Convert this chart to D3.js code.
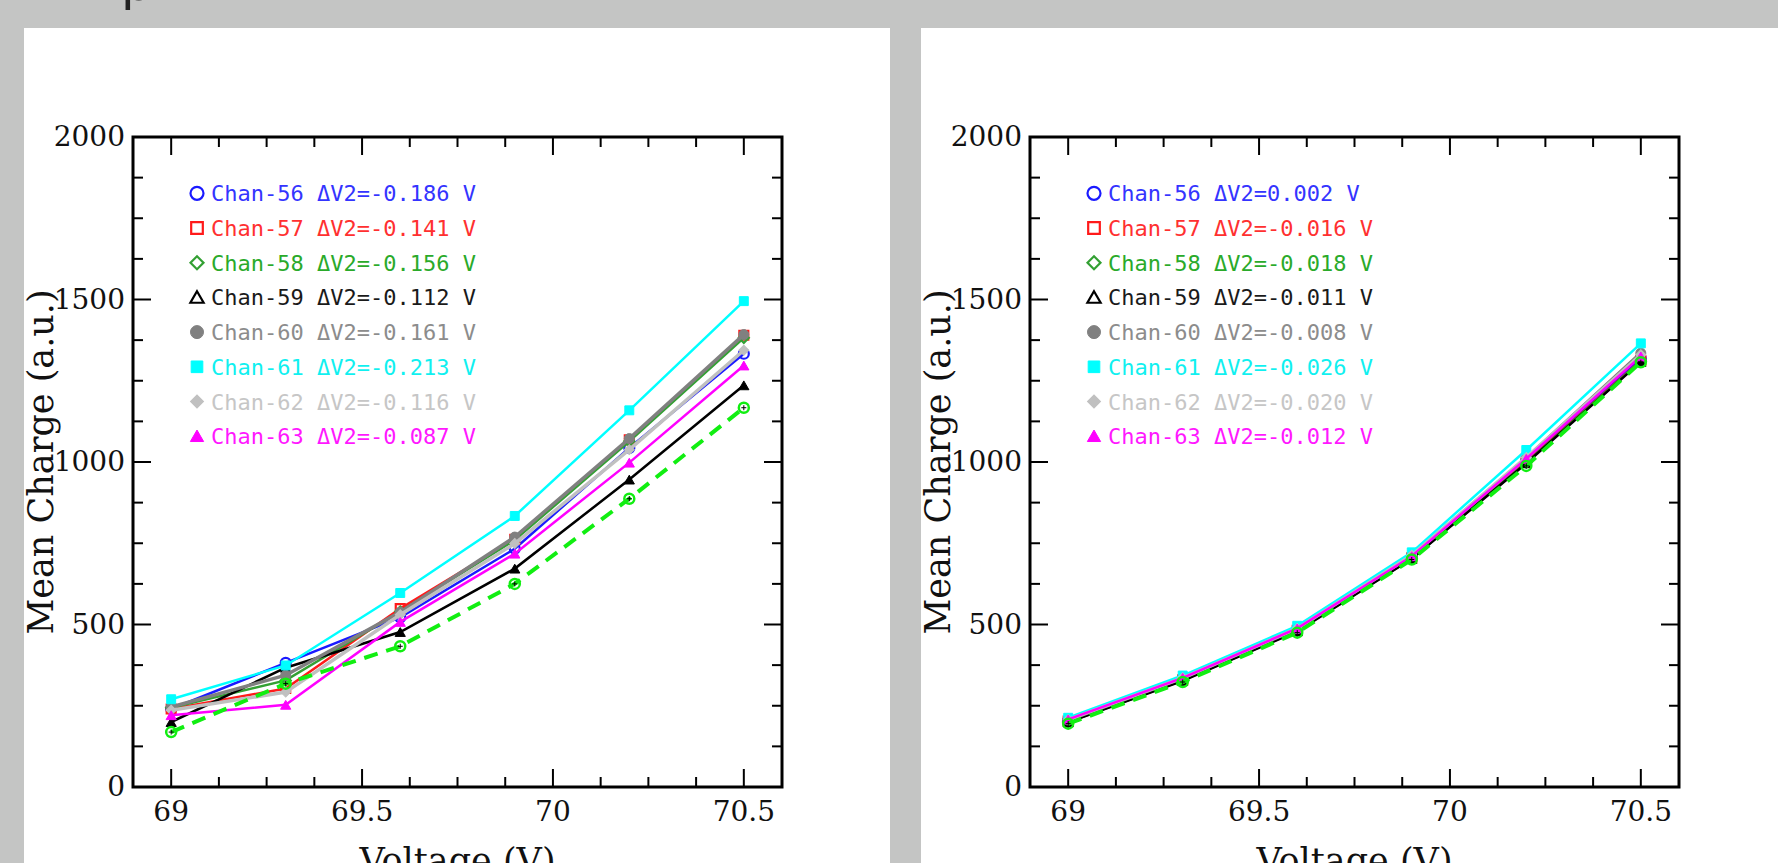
<!DOCTYPE html>
<html>
<head>
<meta charset="utf-8">
<script src="https://cdn.jsdelivr.net/npm/d3@7"></script>
<style>
  body { margin: 0; background: #c4c5c4; overflow: hidden; }
  svg { display: block; }
</style>
</head>
<body>
<svg id="page" width="1778" height="863"></svg>
<script>
// Data
const voltages = [69.0, 69.3, 69.6, 69.9, 70.2, 70.5];
const channels = ["Chan-56", "Chan-57", "Chan-58", "Chan-59", "Chan-60", "Chan-61", "Chan-62", "Chan-63"];
const leftDeltaV = ["-0.186", "-0.141", "-0.156", "-0.112", "-0.161", "-0.213", "-0.116", "-0.087"];
const rightDeltaV = ["0.002", "-0.016", "-0.018", "-0.011", "-0.008", "-0.026", "-0.020", "-0.012"];

const leftCharge = [
  [240, 382, 522, 733, 1043, 1333],
  [240, 303, 549, 762, 1068, 1390],
  [244, 328, 540, 760, 1064, 1382],
  [200, 367, 477, 672, 946, 1236],
  [246, 344, 538, 769, 1072, 1392],
  [270, 374, 597, 834, 1159, 1495],
  [236, 292, 530, 749, 1038, 1344],
  [221, 253, 508, 718, 998, 1297]
];
const leftReference = [169, 318, 433, 625, 887, 1167];

const rightCharge = [
  [205, 333, 485, 708, 1005, 1318],
  [203, 330, 482, 705, 1000, 1312],
  [200, 328, 480, 703, 998, 1310],
  [199, 327, 479, 702, 996, 1308],
  [206, 335, 487, 712, 1012, 1335],
  [213, 343, 496, 722, 1037, 1365],
  [207, 336, 488, 713, 1014, 1330],
  [208, 336, 488, 710, 1010, 1325]
];
const rightReference = [195, 323, 475, 700, 988, 1307];

const yTicks = [0, 500, 1000, 1500, 2000];
const xTicks = [69, 69.5, 70, 70.5];

// styles per channel
const lineColors = ["#1a1aff", "#ff1a1a", "#33a033", "#000000", "#808080", "#00ffff", "#c0c0c0", "#ff00ff"];
const textColors = ["#3434ff", "#ff3030", "#2aaa2a", "#1a1a1a", "#8c8c8c", "#10f0f0", "#c6c6c6", "#ff18ff"];
const markerType = ["circle", "square", "diamond", "triangle", "circle", "square", "diamond", "triangle"];
const legendFilled = [false, false, false, false, true, true, true, true];
const dataFilled = [false, false, false, true, true, true, true, true];

const svg = d3.select("#page");

// the slide title above, cut off by the top edge
svg.append("text")
  .attr("x", 121).attr("y", 0)
  .style("font-family", "DejaVu Sans").style("font-size", "50px")
  .attr("fill", "#222")
  .text("p");

// white panels
svg.append("rect").attr("x", 24).attr("y", 28).attr("width", 866).attr("height", 835).attr("fill", "#fff");
svg.append("rect").attr("x", 921).attr("y", 28).attr("width", 857).attr("height", 835).attr("fill", "#fff");

function markerPath(type, r) {
  if (type === "circle") return d3.symbol(d3.symbolCircle, Math.PI * r * r)();
  if (type === "square") return d3.symbol(d3.symbolSquare, 4 * r * r * 0.8)();
  if (type === "diamond") return d3.symbol(d3.symbolSquare, 2 * r * r * 1.0)();
  return d3.symbol(d3.symbolTriangle, 1.8 * r * r)();
}

function drawMarker(g, type, cx, cy, r, color, filled) {
  g.append("path")
    .attr("d", markerPath(type, r))
    .attr("transform", `translate(${cx},${cy})` + (type === "diamond" ? " rotate(45)" : "") + (type === "triangle" ? " translate(0,1.5)" : ""))
    .attr("fill", filled ? color : "none")
    .attr("stroke", color)
    .attr("stroke-width", filled ? 1 : 2.2);
}

function drawPanel(left, charge, reference, deltaV) {
  const top = 137, bottom = 787, right = left + 649;
  const x = d3.scaleLinear().domain([68.9, 70.6]).range([left, right]);
  const y = d3.scaleLinear().domain([0, 2000]).range([bottom, top]);
  const g = svg.append("g");
  const font = "DejaVu Serif";

  // ticks, inward on all four sides
  const xMinor = d3.range(0, 13).map(i => 69 + i * 0.125);
  const yMinor = d3.range(0, 17).map(i => i * 125);
  const ticks = g.append("g").attr("stroke", "#000").attr("stroke-width", 2);
  xMinor.forEach(v => {
    const len = Math.abs(v * 2 - Math.round(v * 2)) < 1e-6 ? 18 : 10;
    ticks.append("line").attr("x1", x(v)).attr("x2", x(v)).attr("y1", bottom).attr("y2", bottom - len);
    ticks.append("line").attr("x1", x(v)).attr("x2", x(v)).attr("y1", top).attr("y2", top + len);
  });
  yMinor.forEach(v => {
    const len = v % 500 === 0 ? 18 : 10;
    ticks.append("line").attr("x1", left).attr("x2", left + len).attr("y1", y(v)).attr("y2", y(v));
    ticks.append("line").attr("x1", right).attr("x2", right - len).attr("y1", y(v)).attr("y2", y(v));
  });

  // frame
  g.append("rect")
    .attr("x", left).attr("y", top)
    .attr("width", right - left).attr("height", bottom - top)
    .attr("fill", "none").attr("stroke", "#000").attr("stroke-width", 3);

  // tick labels
  g.selectAll(".ylab").data(yTicks).enter().append("text")
    .attr("x", left - 8).attr("y", d => y(d) + 9)
    .attr("text-anchor", "end")
    .style("font-family", font).style("font-size", "28px")
    .attr("fill", "#111")
    .text(d => d);
  g.selectAll(".xlab").data(xTicks).enter().append("text")
    .attr("x", d => x(d)).attr("y", bottom + 34)
    .attr("text-anchor", "middle")
    .style("font-family", font).style("font-size", "28px")
    .attr("fill", "#111")
    .text(d => d);

  // axis titles
  g.append("text")
    .attr("transform", `translate(${left - 80},${(top + bottom) / 2}) rotate(-90)`)
    .attr("text-anchor", "middle")
    .style("font-family", font).style("font-size", "35px")
    .attr("fill", "#111")
    .text("Mean Charge (a.u.)");
  g.append("text")
    .attr("x", (left + right) / 2).attr("y", bottom + 86)
    .attr("text-anchor", "middle")
    .style("font-family", font).style("font-size", "35px")
    .attr("fill", "#111")
    .text("Voltage (V)");

  // series lines and markers
  const line = d3.line().x(d => x(d.v)).y(d => y(d.q));
  charge.forEach((vals, i) => {
    const pts = voltages.map((v, k) => ({v: v, q: vals[k]}));
    g.append("path")
      .datum(pts)
      .attr("fill", "none")
      .attr("stroke", lineColors[i])
      .attr("stroke-width", (i === 4 || i === 6) ? 3.5 : 2.5)
      .attr("d", line);
    pts.forEach(p => drawMarker(g, markerType[i], x(p.v), y(p.q), 5, lineColors[i], dataFilled[i]));
  });

  // reference curve (dashed lime)
  const refPts = voltages.map((v, k) => ({v: v, q: reference[k]}));
  g.append("path")
    .datum(refPts)
    .attr("fill", "none")
    .attr("stroke", "#11ee11")
    .attr("stroke-width", 4)
    .attr("stroke-dasharray", "14,9")
    .attr("d", line);
  refPts.forEach(p => {
    g.append("circle").attr("cx", x(p.v)).attr("cy", y(p.q)).attr("r", 5)
      .attr("fill", "none").attr("stroke", "#11ee11").attr("stroke-width", 2.5);
    g.append("path")
      .attr("d", `M${x(p.v) - 2.5},${y(p.q)}h5M${x(p.v)},${y(p.q) - 2.5}v5`)
      .attr("stroke", "#000").attr("stroke-width", 1);
  });

  // legend
  channels.forEach((c, i) => {
    const cy = 193.3 + i * 34.7;
    drawMarker(g, markerType[i], left + 64, cy, 6.5, lineColors[i], legendFilled[i]);
    g.append("text")
      .attr("x", left + 78).attr("y", cy + 8)
      .style("font-family", "DejaVu Sans Mono").style("font-size", "22px")
      .attr("fill", textColors[i])
      .text(`${c} \u0394V2=${deltaV[i]} V`);
  });
}

drawPanel(133, leftCharge, leftReference, leftDeltaV);
drawPanel(1030, rightCharge, rightReference, rightDeltaV);
</script>
</body>
</html>
